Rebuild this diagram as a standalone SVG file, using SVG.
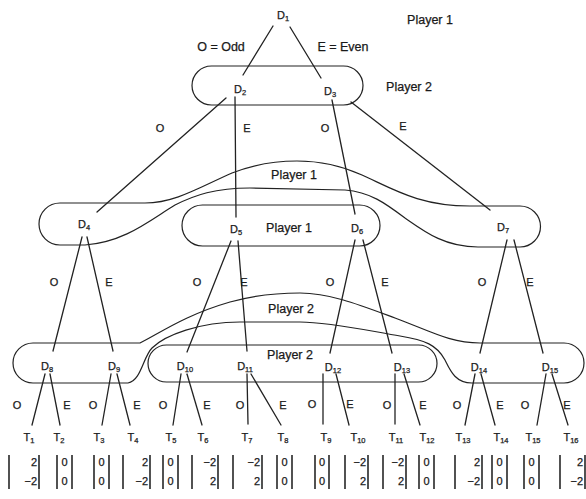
<svg xmlns="http://www.w3.org/2000/svg" width="586" height="499" viewBox="0 0 586 499">
  <style>
    .edge { stroke: #222; stroke-width: 1.3; fill: none; stroke-linecap: round; }
    .set { stroke: #222; stroke-width: 1.2; fill: none; }
    .bar { stroke: #333; stroke-width: 1.7; }
    text { font-family: "Liberation Sans", Arial, sans-serif; fill: #1a1a1a; stroke: #1a1a1a; stroke-width: 0.25; }
    .node { font-size: 11px; text-anchor: middle; }
    .sub { font-size: 7.5px; }
    .choice { font-size: 11px; text-anchor: middle; }
    .player { font-size: 12.5px; text-anchor: middle; }
    .pay { font-size: 11px; text-anchor: end; }
    .payc { font-size: 11px; text-anchor: middle; }
  </style>
  <rect width="586" height="499" fill="#fff"/>

  <!-- information sets -->
  <g id="info-sets">
    <rect class="set" x="192" y="66" width="171" height="39" rx="19.5"/>
    <!-- player 1: D4 and D7 joined by an arched band -->
    <path class="set" d="M 60,203 L 145,203 C 175,203 200,187 232,173 C 255,164 275,161 297,161 C 320,161 340,165 362,175 C 395,190 420,206 470,206 L 520,206 A 20.5,20.5 0 0 1 520,247 L 478,247 C 445,247 425,232 405,218 C 385,203 370,192 345,190 L 250,188 C 215,188 195,195 175,205 C 150,220 125,242 85,245 L 60,245 A 21,21 0 0 1 60,203 Z"/>
    <rect class="set" x="182" y="205" width="198" height="41" rx="20.5"/>
    <!-- player 2: D8, D9 and D14, D15 joined by an arched band -->
    <path class="set" d="M 33,343 L 140,343 C 160,333 185,315 230,302 C 255,295 280,293 300,293 C 330,293 360,305 395,318 C 430,331 450,343 480,343 L 564,343 A 20,20 0 0 1 564,383 L 472,383 C 455,383 450,370 445,360 C 437,345 425,340 400,336 C 370,331 330,322 300,322 L 240,322 C 200,322 165,335 152,348 C 143,357 141,381 128,383 L 33,383 A 20,20 0 0 1 33,343 Z"/>
    <rect class="set" x="148" y="345" width="289" height="37" rx="18.5"/>
  </g>

  <!-- connectors -->
  <g id="connectors">
    <line class="edge" x1="273" y1="26" x2="243" y2="75"/>
    <line class="edge" x1="290" y1="27" x2="321" y2="78"/>

    <line class="edge" x1="226" y1="98" x2="97" y2="212"/>
    <line class="edge" x1="235" y1="97" x2="236" y2="217"/>
    <line class="edge" x1="332" y1="100" x2="355" y2="214"/>
    <line class="edge" x1="351" y1="102" x2="490" y2="210"/>

    <line class="edge" x1="82" y1="237" x2="53" y2="351"/>
    <line class="edge" x1="87" y1="237" x2="113" y2="351"/>
    <line class="edge" x1="231" y1="241" x2="187" y2="352"/>
    <line class="edge" x1="238" y1="241" x2="247" y2="351"/>
    <line class="edge" x1="355" y1="240" x2="330" y2="353"/>
    <line class="edge" x1="363" y1="240" x2="392" y2="353"/>
    <line class="edge" x1="507" y1="240" x2="480" y2="353"/>
    <line class="edge" x1="514" y1="240" x2="543" y2="353"/>

    <line class="edge" x1="45" y1="374" x2="32" y2="425"/>
    <line class="edge" x1="50" y1="374" x2="60" y2="425"/>
    <line class="edge" x1="111" y1="374" x2="102" y2="425"/>
    <line class="edge" x1="117" y1="374" x2="130" y2="425"/>
    <line class="edge" x1="181" y1="374" x2="173" y2="425"/>
    <line class="edge" x1="187" y1="374" x2="202" y2="425"/>
    <line class="edge" x1="247" y1="374" x2="248" y2="424"/>
    <line class="edge" x1="251" y1="374" x2="281" y2="425"/>
    <line class="edge" x1="323" y1="374" x2="323" y2="424"/>
    <line class="edge" x1="336" y1="374" x2="349" y2="425"/>
    <line class="edge" x1="395" y1="374" x2="395" y2="424"/>
    <line class="edge" x1="404" y1="374" x2="420" y2="425"/>
    <line class="edge" x1="475" y1="374" x2="465" y2="425"/>
    <line class="edge" x1="481" y1="374" x2="495" y2="425"/>
    <line class="edge" x1="546" y1="374" x2="537" y2="425"/>
    <line class="edge" x1="552" y1="374" x2="568" y2="425"/>
  </g>

  <!-- choice labels -->
  <g id="choice-labels">
    <text class="choice" x="221" y="51" style="font-size:12.5px">O = Odd</text>
    <text class="choice" x="343" y="51" style="font-size:12.5px">E = Even</text>
    <text class="choice" x="160" y="132">O</text>
    <text class="choice" x="247" y="132">E</text>
    <text class="choice" x="325" y="132">O</text>
    <text class="choice" x="403" y="130">E</text>
    <text class="choice" x="54" y="286">O</text>
    <text class="choice" x="109" y="286">E</text>
    <text class="choice" x="197" y="286">O</text>
    <text class="choice" x="244" y="286">E</text>
    <text class="choice" x="330" y="286">O</text>
    <text class="choice" x="385" y="286">E</text>
    <text class="choice" x="482" y="286">O</text>
    <text class="choice" x="530" y="286">E</text>
    <text class="choice" x="17" y="409">O</text>
    <text class="choice" x="67" y="409">E</text>
    <text class="choice" x="93" y="409">O</text>
    <text class="choice" x="137" y="409">E</text>
    <text class="choice" x="163" y="409">O</text>
    <text class="choice" x="207" y="409">E</text>
    <text class="choice" x="240" y="409">O</text>
    <text class="choice" x="283" y="409">E</text>
    <text class="choice" x="312" y="408">O</text>
    <text class="choice" x="350" y="408">E</text>
    <text class="choice" x="387" y="409">O</text>
    <text class="choice" x="423" y="409">E</text>
    <text class="choice" x="457" y="409">O</text>
    <text class="choice" x="500" y="409">E</text>
    <text class="choice" x="525" y="409">O</text>
    <text class="choice" x="567" y="409">E</text>
  </g>

  <!-- player labels -->
  <g id="player-labels">
    <text class="player" x="430" y="24">Player 1</text>
    <text class="player" x="409" y="91">Player 2</text>
    <text class="player" x="294" y="179">Player 1</text>
    <text class="player" x="289" y="232">Player 1</text>
    <text class="player" x="291" y="313">Player 2</text>
    <text class="player" x="290" y="359">Player 2</text>
  </g>

  <!-- decision nodes -->
  <g id="D1"><text class="node" x="283" y="19">D<tspan class="sub" dy="2">1</tspan></text></g>
  <g id="D2"><text class="node" x="240" y="93">D<tspan class="sub" dy="2">2</tspan></text></g>
  <g id="D3"><text class="node" x="330" y="95">D<tspan class="sub" dy="2">3</tspan></text></g>
  <g id="D4"><text class="node" x="84" y="228">D<tspan class="sub" dy="2">4</tspan></text></g>
  <g id="D5"><text class="node" x="236" y="233">D<tspan class="sub" dy="2">5</tspan></text></g>
  <g id="D6"><text class="node" x="357" y="232">D<tspan class="sub" dy="2">6</tspan></text></g>
  <g id="D7"><text class="node" x="503" y="231">D<tspan class="sub" dy="2">7</tspan></text></g>
  <g id="D8"><text class="node" x="47" y="370">D<tspan class="sub" dy="2">8</tspan></text></g>
  <g id="D9"><text class="node" x="114" y="370">D<tspan class="sub" dy="2">9</tspan></text></g>
  <g id="D10"><text class="node" x="185" y="370">D<tspan class="sub" dy="2">10</tspan></text></g>
  <g id="D11"><text class="node" x="245" y="370">D<tspan class="sub" dy="2">11</tspan></text></g>
  <g id="D12"><text class="node" x="333" y="371">D<tspan class="sub" dy="2">12</tspan></text></g>
  <g id="D13"><text class="node" x="402" y="371">D<tspan class="sub" dy="2">13</tspan></text></g>
  <g id="D14"><text class="node" x="479" y="371">D<tspan class="sub" dy="2">14</tspan></text></g>
  <g id="D15"><text class="node" x="550" y="371">D<tspan class="sub" dy="2">15</tspan></text></g>

  <!-- terminal nodes with payoff vectors -->
  <g id="T1"><text class="node" x="29" y="441">T<tspan class="sub" dy="2">1</tspan></text>
    <line class="bar" x1="9" y1="455" x2="9" y2="489"/><line class="bar" x1="39" y1="455" x2="39" y2="489"/>
    <text class="pay" x="37" y="466">2</text><text class="pay" x="37" y="485">−2</text></g>
  <g id="T2"><text class="node" x="59" y="441">T<tspan class="sub" dy="2">2</tspan></text>
    <line class="bar" x1="57" y1="455" x2="57" y2="489"/><line class="bar" x1="72" y1="455" x2="72" y2="489"/>
    <text class="payc" x="64.5" y="466">0</text><text class="payc" x="64.5" y="485">0</text></g>
  <g id="T3"><text class="node" x="99" y="441">T<tspan class="sub" dy="2">3</tspan></text>
    <line class="bar" x1="94" y1="455" x2="94" y2="489"/><line class="bar" x1="109" y1="455" x2="109" y2="489"/>
    <text class="payc" x="101.5" y="466">0</text><text class="payc" x="101.5" y="485">0</text></g>
  <g id="T4"><text class="node" x="133" y="441">T<tspan class="sub" dy="2">4</tspan></text>
    <line class="bar" x1="123" y1="455" x2="123" y2="489"/><line class="bar" x1="150" y1="455" x2="150" y2="489"/>
    <text class="pay" x="148" y="466">2</text><text class="pay" x="148" y="485">−2</text></g>
  <g id="T5"><text class="node" x="171" y="441">T<tspan class="sub" dy="2">5</tspan></text>
    <line class="bar" x1="163" y1="455" x2="163" y2="489"/><line class="bar" x1="178" y1="455" x2="178" y2="489"/>
    <text class="payc" x="170.5" y="466">0</text><text class="payc" x="170.5" y="485">0</text></g>
  <g id="T6"><text class="node" x="203" y="441">T<tspan class="sub" dy="2">6</tspan></text>
    <line class="bar" x1="192" y1="455" x2="192" y2="489"/><line class="bar" x1="218" y1="455" x2="218" y2="489"/>
    <text class="pay" x="216" y="466">−2</text><text class="pay" x="216" y="485">2</text></g>
  <g id="T7"><text class="node" x="247" y="441">T<tspan class="sub" dy="2">7</tspan></text>
    <line class="bar" x1="233" y1="455" x2="233" y2="489"/><line class="bar" x1="262" y1="455" x2="262" y2="489"/>
    <text class="pay" x="260" y="466">−2</text><text class="pay" x="260" y="485">2</text></g>
  <g id="T8"><text class="node" x="283" y="441">T<tspan class="sub" dy="2">8</tspan></text>
    <line class="bar" x1="277" y1="455" x2="277" y2="489"/><line class="bar" x1="292" y1="455" x2="292" y2="489"/>
    <text class="payc" x="284.5" y="466">0</text><text class="payc" x="284.5" y="485">0</text></g>
  <g id="T9"><text class="node" x="326" y="441">T<tspan class="sub" dy="2">9</tspan></text>
    <line class="bar" x1="315" y1="455" x2="315" y2="489"/><line class="bar" x1="329" y1="455" x2="329" y2="489"/>
    <text class="payc" x="322" y="466">0</text><text class="payc" x="322" y="485">0</text></g>
  <g id="T10"><text class="node" x="358" y="441">T<tspan class="sub" dy="2">10</tspan></text>
    <line class="bar" x1="345" y1="455" x2="345" y2="489"/><line class="bar" x1="368" y1="455" x2="368" y2="489"/>
    <text class="pay" x="366" y="466">−2</text><text class="pay" x="366" y="485">2</text></g>
  <g id="T11"><text class="node" x="396" y="441">T<tspan class="sub" dy="2">11</tspan></text>
    <line class="bar" x1="383" y1="455" x2="383" y2="489"/><line class="bar" x1="406" y1="455" x2="406" y2="489"/>
    <text class="pay" x="404" y="466">−2</text><text class="pay" x="404" y="485">2</text></g>
  <g id="T12"><text class="node" x="427" y="441">T<tspan class="sub" dy="2">12</tspan></text>
    <line class="bar" x1="419" y1="455" x2="419" y2="489"/><line class="bar" x1="434" y1="455" x2="434" y2="489"/>
    <text class="payc" x="426.5" y="466">0</text><text class="payc" x="426.5" y="485">0</text></g>
  <g id="T13"><text class="node" x="463" y="441">T<tspan class="sub" dy="2">13</tspan></text>
    <line class="bar" x1="455" y1="455" x2="455" y2="489"/><line class="bar" x1="482" y1="455" x2="482" y2="489"/>
    <text class="pay" x="480" y="466">2</text><text class="pay" x="480" y="485">−2</text></g>
  <g id="T14"><text class="node" x="501" y="441">T<tspan class="sub" dy="2">14</tspan></text>
    <line class="bar" x1="492" y1="455" x2="492" y2="489"/><line class="bar" x1="507" y1="455" x2="507" y2="489"/>
    <text class="payc" x="499.5" y="466">0</text><text class="payc" x="499.5" y="485">0</text></g>
  <g id="T15"><text class="node" x="533" y="441">T<tspan class="sub" dy="2">15</tspan></text>
    <line class="bar" x1="524" y1="455" x2="524" y2="489"/><line class="bar" x1="539" y1="455" x2="539" y2="489"/>
    <text class="payc" x="531.5" y="466">0</text><text class="payc" x="531.5" y="485">0</text></g>
  <g id="T16"><text class="node" x="571" y="441">T<tspan class="sub" dy="2">16</tspan></text>
    <line class="bar" x1="560" y1="455" x2="560" y2="489"/><line class="bar" x1="585" y1="455" x2="585" y2="489"/>
    <text class="pay" x="583" y="466">2</text><text class="pay" x="583" y="485">−2</text></g>
</svg>
